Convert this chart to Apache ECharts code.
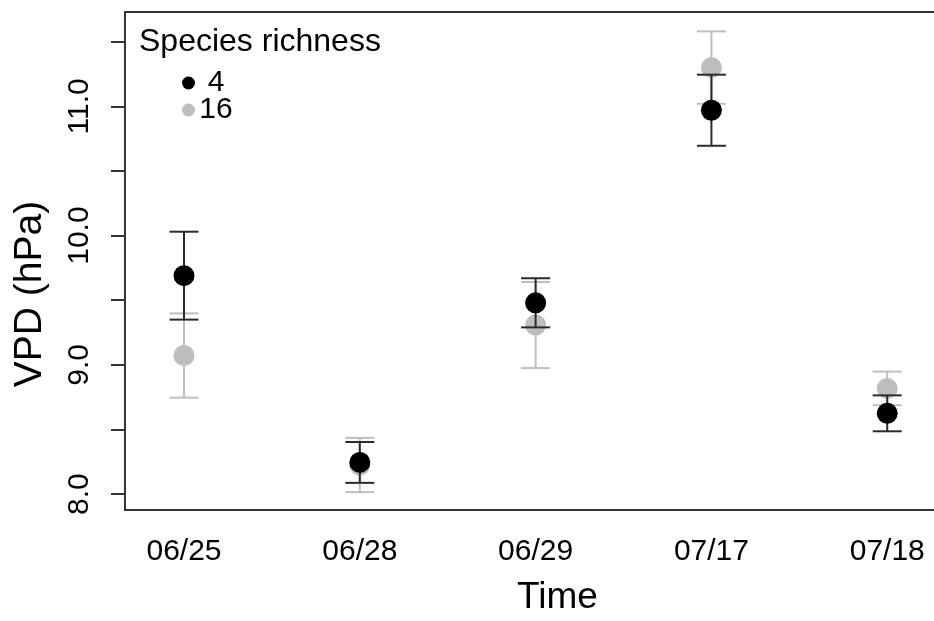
<!DOCTYPE html>
<html>
<head>
<meta charset="utf-8">
<title>VPD by species richness</title>
<script src="https://cdn.jsdelivr.net/npm/echarts@6/dist/echarts.min.js"></script>
<style>
  html, body { margin: 0; padding: 0; background: #fff; }
  #chart { width: 934px; height: 621px; }
</style>
</head>
<body>
<div id="chart"></div>
<script>
// Sampling dates
const dates = ['06/25', '06/28', '06/29', '07/17', '07/18'];

// Mean VPD (hPa) and error half-width for each species-richness level
const rich4Mean = [9.69, 8.245, 9.48, 10.97, 8.625];
const rich4Err  = [0.34, 0.158, 0.19, 0.275, 0.139];
const rich16Mean = [9.072, 8.225, 9.308, 11.30, 8.818];
const rich16Err  = [0.326, 0.21, 0.333, 0.28, 0.13];

// Axis ticks
const yTicks = [8, 8.5, 9, 9.5, 10, 10.5, 11, 11.5];
const yLabels = [8, 9, 10, 11];
const xPositions = [1, 2, 3, 4, 5];

const FONT = '"Liberation Sans", Arial, Helvetica, sans-serif';
const BLACK = '#000000';
const BAR_DARK = '#2b2b2b';
const GREY = '#bebebe';
const FRAME = '#333333';

const X_MIN = 0.6645;
const X_MAX = 5.266;

function pointData(means) {
  return means.map((m, i) => [xPositions[i], m]);
}
function errData(means, errs) {
  return means.map((m, i) => [xPositions[i], m, errs[i]]);
}

function errorBarRenderer(color) {
  return function (params, api) {
    const x = api.value(0);
    const m = api.value(1);
    const e = api.value(2);
    const hi = api.coord([x, m + e]);
    const lo = api.coord([x, m - e]);
    const half = 14.5;
    const style = { stroke: color, lineWidth: 2 };
    return {
      type: 'group',
      children: [
        { type: 'line', shape: { x1: hi[0], y1: hi[1], x2: lo[0], y2: lo[1] }, style },
        { type: 'line', shape: { x1: hi[0] - half, y1: hi[1], x2: hi[0] + half, y2: hi[1] }, style },
        { type: 'line', shape: { x1: lo[0] - half, y1: lo[1], x2: lo[0] + half, y2: lo[1] }, style }
      ]
    };
  };
}

const chart = echarts.init(document.getElementById('chart'), null, { renderer: 'canvas' });

chart.setOption({
  animation: false,
  backgroundColor: '#ffffff',
  textStyle: { fontFamily: FONT },
  title: {
    text: 'Species richness',
    left: 139,
    top: 26,
    padding: 0,
    textStyle: { fontFamily: FONT, fontSize: 32, fontWeight: 'normal', color: '#000' }
  },
  legend: {
    data: ['4', '16'],
    orient: 'vertical',
    left: 182,
    top: 68,
    padding: 0,
    itemGap: -3,
    itemWidth: 13,
    itemHeight: 13,
    icon: 'circle',
    selectedMode: false,
    formatter: name => `{n|${name}}`,
    textStyle: {
      fontFamily: FONT,
      fontSize: 30,
      color: '#000',
      lineHeight: 28,
      rich: { n: { width: 32, align: 'center', fontSize: 30, lineHeight: 28, fontFamily: FONT } }
    }
  },
  grid: {
    left: 125,
    top: 12,
    bottom: 109,
    right: 0,
    containLabel: false
  },
  xAxis: [
    {
      type: 'value',
      position: 'bottom',
      min: X_MIN,
      max: X_MAX,
      name: 'Time',
      nameLocation: 'middle',
      nameGap: 69,
      nameTextStyle: { fontFamily: FONT, fontSize: 37, color: '#000', padding: [0, 0, 0, 56] },
      axisLine: { show: true, onZero: false, lineStyle: { color: FRAME, width: 2 } },
      axisTick: { show: false },
      splitLine: { show: false },
      axisLabel: {
        customValues: xPositions,
        formatter: v => dates[Math.round(v) - 1],
        margin: 27,
        fontFamily: FONT,
        fontSize: 30,
        color: '#000'
      }
    },
    {
      // top edge of the plot frame
      type: 'value',
      position: 'top',
      min: X_MIN,
      max: X_MAX,
      axisLine: { show: true, onZero: false, lineStyle: { color: FRAME, width: 2 } },
      axisTick: { show: false },
      axisLabel: { show: false },
      splitLine: { show: false }
    }
  ],
  yAxis: {
    type: 'value',
    min: 7.877,
    max: 11.73,
    name: 'VPD (hPa)',
    nameLocation: 'middle',
    nameGap: 75,
    nameTextStyle: { fontFamily: FONT, fontSize: 39, color: '#000', padding: [0, 66, 0, 0] },
    axisLine: { show: true, onZero: false, lineStyle: { color: FRAME, width: 2 } },
    splitLine: { show: false },
    axisTick: {
      show: true,
      customValues: yTicks,
      length: 14,
      lineStyle: { color: FRAME, width: 2 }
    },
    axisLabel: {
      customValues: yLabels,
      formatter: v => v.toFixed(1),
      rotate: 90,
      margin: 30,
      fontFamily: FONT,
      fontSize: 30,
      color: '#000'
    }
  },
  series: [
    {
      name: '16 error',
      type: 'custom',
      renderItem: errorBarRenderer(GREY),
      data: errData(rich16Mean, rich16Err),
      encode: { x: 0, y: 1 },
      z: 2,
      silent: true
    },
    {
      name: '16',
      type: 'scatter',
      data: pointData(rich16Mean),
      symbol: 'circle',
      symbolSize: 21,
      itemStyle: { color: GREY, opacity: 1 },
      z: 3
    },
    {
      name: '4 error',
      type: 'custom',
      renderItem: errorBarRenderer(BAR_DARK),
      data: errData(rich4Mean, rich4Err),
      encode: { x: 0, y: 1 },
      z: 4,
      silent: true
    },
    {
      name: '4',
      type: 'scatter',
      data: pointData(rich4Mean),
      symbol: 'circle',
      symbolSize: 21,
      itemStyle: { color: BLACK, opacity: 1 },
      z: 5
    }
  ]
});
</script>
</body>
</html>
